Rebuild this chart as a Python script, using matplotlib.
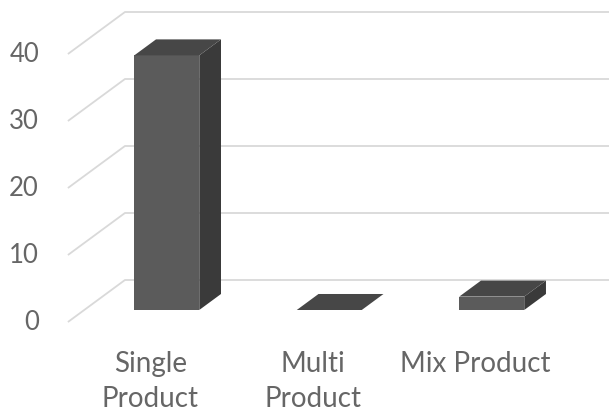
import matplotlib
matplotlib.use("Agg")
import matplotlib.pyplot as plt
from matplotlib.patches import Polygon

# Chart data
categories = ["Single\nProduct", "Multi\nProduct", "Mix Product"]
values = [38, 0, 2]
ticks = [0, 10, 20, 30, 40]

# Oblique 3-D projection settings (data units)
DX = 0.351        # horizontal shift for full floor depth (category units)
DY = 6.27         # vertical shift for full floor depth (value units)
D0, D1 = 0.286, 0.667   # bar depth range within the floor
HALF_W = 0.2      # half bar width (category units)
GRID_X0 = -0.508  # front-left start of gridlines
GRID_X1 = 3.2     # right end of gridlines

FRONT = "#5b5b5b"
TOP = "#474747"
SIDE = "#3a3a3a"
GRID = "#d9d9d9"
TEXT = "#666666"
FONT = ["Lato", "DejaVu Sans"]


def proj(x, v, d):
    return (x + d * DX, v + d * DY)


fig = plt.figure(figsize=(6.09, 4.13), dpi=100)
ax = fig.add_axes([0, 0, 1, 1])
ax.set_xlim(-0.926, 2.822)
ax.set_ylim(-13.58, 48.06)
ax.axis("off")

# Gridlines: slanted floor/wall edge on the left, then horizontal along the back wall
for t in ticks:
    p0 = proj(GRID_X0, t, 0)
    p1 = proj(GRID_X0, t, 1)
    p2 = proj(GRID_X1, t, 1)
    ax.plot([p0[0], p1[0], p2[0]], [p0[1], p1[1], p2[1]],
            color=GRID, lw=1.3, solid_capstyle="butt", zorder=1)
    ax.text(-0.686, t, str(t), ha="right", va="center",
            fontsize=18.5, color=TEXT, family=FONT)

# 3-D bars
for i, v in enumerate(values):
    xl, xr = i - HALF_W, i + HALF_W
    front = [proj(xl, 0, D0), proj(xr, 0, D0), proj(xr, v, D0), proj(xl, v, D0)]
    side = [proj(xr, 0, D0), proj(xr, 0, D1), proj(xr, v, D1), proj(xr, v, D0)]
    top = [proj(xl, v, D0), proj(xr, v, D0), proj(xr, v, D1), proj(xl, v, D1)]
    if v > 0:
        ax.add_patch(Polygon(front, closed=True, facecolor=FRONT, edgecolor="none", zorder=3))
        ax.add_patch(Polygon(side, closed=True, facecolor=SIDE, edgecolor="none", zorder=3))
    ax.add_patch(Polygon(top, closed=True, facecolor=TOP, edgecolor="none", zorder=3))

# Category labels
for i, c in enumerate(categories):
    ax.text(i, -4.3, c, ha="center", va="top", fontsize=20, color=TEXT,
            linespacing=1.45, family=FONT)

fig.savefig("out.png", dpi=100)
